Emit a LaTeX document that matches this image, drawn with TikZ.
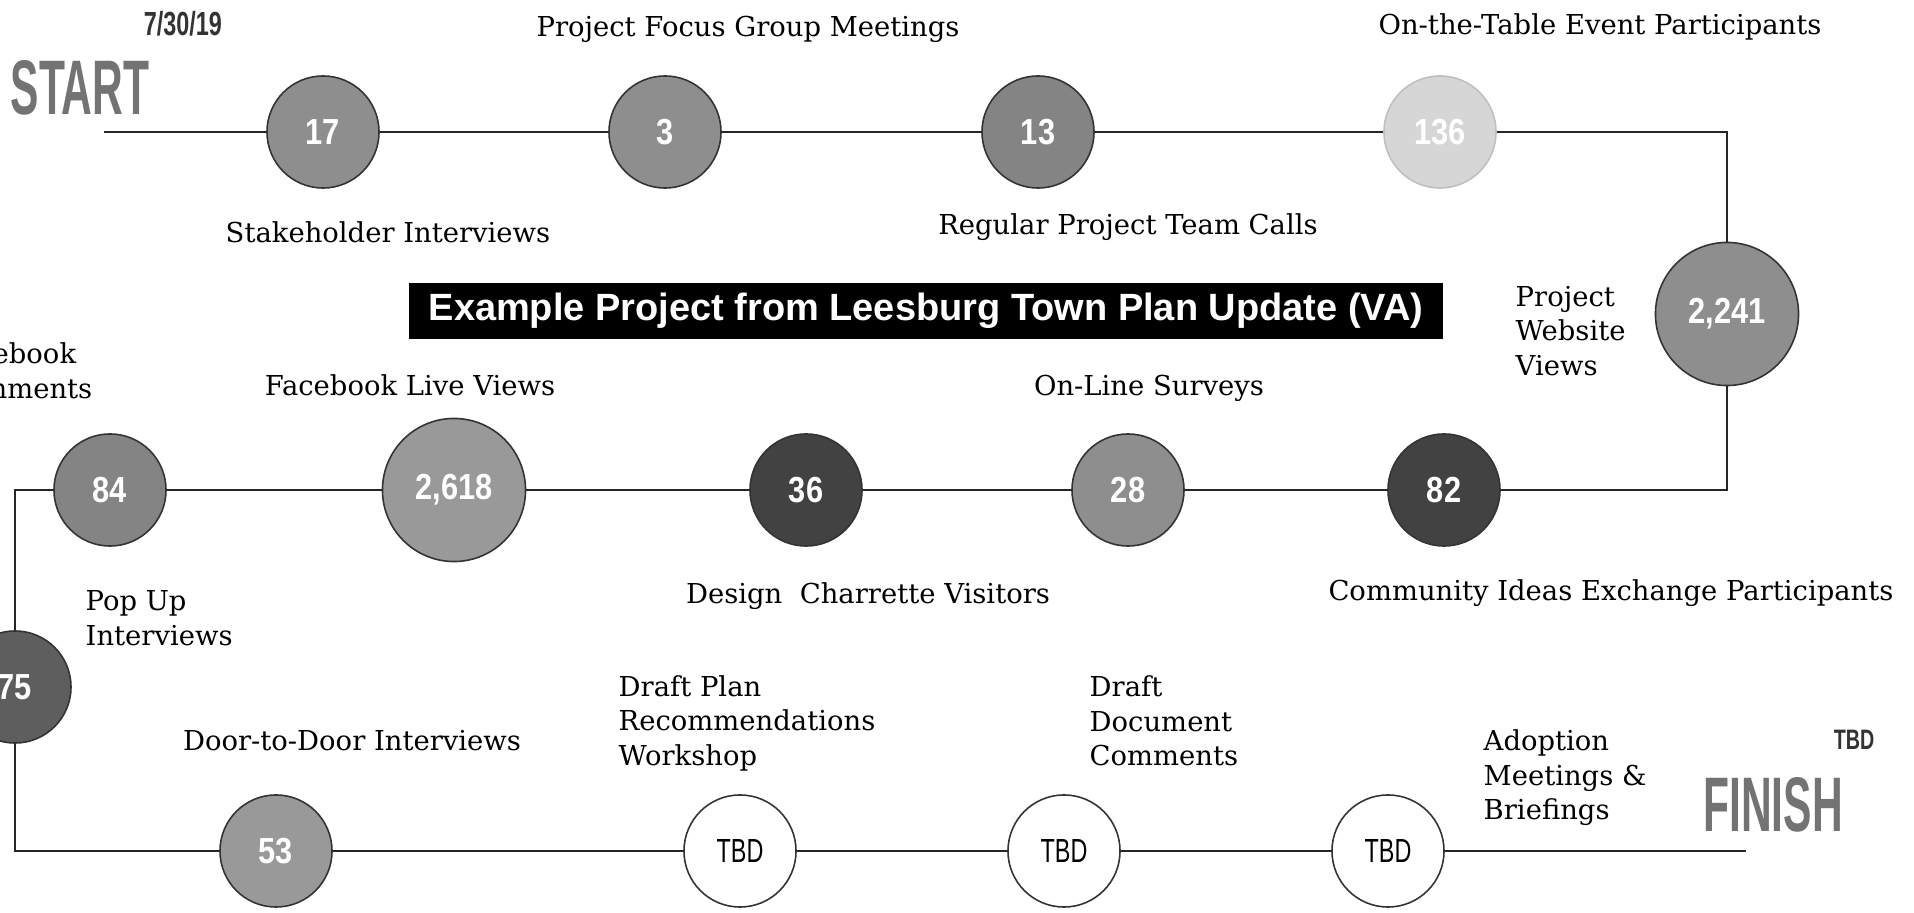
\documentclass[tikz,border=0pt]{standalone}
\usepackage{fontspec}
\setmainfont{DejaVu Serif}
\newfontfamily\numfont[FakeStretch=0.85]{Liberation Sans}
\newfontfamily\datefont[FakeStretch=0.7]{Liberation Sans}
\newfontfamily\tallfont[FakeStretch=0.55]{Liberation Sans}
\newfontfamily\titlefont{Liberation Sans}
\definecolor{gmid}{HTML}{8E8E8E}
\definecolor{gmidlt}{HTML}{999999}
\definecolor{gmiddk}{HTML}{848484}
\definecolor{gdark}{HTML}{424242}
\definecolor{gdeep}{HTML}{5E5E5E}
\definecolor{gpale}{HTML}{D6D6D6}

\begin{document}
\begin{tikzpicture}[x=0.01cm,y=-0.01cm,
  link/.style={draw=black!85,line width=0.6pt},
  dot/.style={circle,draw=black!80,line width=0.45pt,minimum size=1.12cm,inner sep=0pt,
              text=white,font=\numfont\bfseries\fontsize{10.3}{12}\selectfont},
  bigdot/.style={dot,minimum size=1.43cm},
  open/.style={dot,fill=white,text=black,font=\datefont\fontsize{9.5}{11}\selectfont},
  lbl/.style={font=\fontsize{7.8}{9.8}\selectfont,inner sep=0pt},
  lbll/.style={lbl,align=left,anchor=west},
  tall/.style={font=\tallfont\bfseries\fontsize{22}{22}\selectfont,text=black!55,inner sep=0pt},
  stamp/.style={font=\datefont\bfseries\fontsize{9.5}{10}\selectfont,text=black!80,inner sep=0pt}]
\def\ra{132}\def\rb{490}\def\rc{851}
\fill[white] (0,0) rectangle (1914,913);
\useasboundingbox (0,0) rectangle (1914,913);

% row 1
\node[dot,fill=gmid] (c17) at (323,\ra) {17};
\node[dot,fill=gmid] (c3) at (665,\ra) {3};
\node[dot,fill=gmiddk] (c13) at (1038,\ra) {13};
\node[dot,fill=gpale,draw=black!25] (c136) at (1440,\ra) {136};
\node[bigdot,fill=gmid] (c2241) at (1727,314) {2,241};
% row 2
\node[dot,fill=gmiddk] (c84) at (110,\rb) {84};
\node[bigdot,fill=gmidlt] (c2618) at (454,\rb) {2,618};
\node[dot,fill=gdark] (c36) at (806,\rb) {36};
\node[dot,fill=gmid] (c28) at (1128,\rb) {28};
\node[dot,fill=gdark] (c82) at (1444,\rb) {82};
\node[dot,fill=gdeep] (c75) at (15,687) {75};
% row 3
\node[dot,fill=gmidlt] (c53) at (276,\rc) {53};
\node[open] (tbdA) at (740,\rc) {TBD};
\node[open] (tbdB) at (1064,\rc) {TBD};
\node[open] (tbdC) at (1388,\rc) {TBD};

\coordinate (s0) at (104,\ra);
\coordinate (kA) at (1727,\ra);
\coordinate (kB) at (1727,\rb);
\coordinate (kC) at (15,\rb);
\coordinate (kD) at (15,\rc);
\coordinate (fin) at (1746,\rc);
\draw[link] (s0) -- (c17) -- (c3) -- (c13) -- (c136) -- (kA) -- (c2241) -- (kB)
  -- (c82) -- (c28) -- (c36) -- (c2618) -- (c84) -- (kC) -- (c75) -- (kD)
  -- (c53) -- (tbdA) -- (tbdB) -- (tbdC) -- (fin);

% labels
\node[stamp] (tDate) at (183,24) {7/30/19};
\node[tall] (tStart) at (80,88) {START};
\node[stamp,font=\datefont\bfseries\fontsize{8}{9}\selectfont] (tTbd) at (1854,740) {TBD};
\node[tall] (tFinish) at (1773,805) {FINISH};
\node[lbl] (lFocus) at (748,29) {Project Focus Group Meetings};
\node[lbl] (lStake) at (388,232) {Stakeholder Interviews};
\node[lbl] (lCalls) at (1128,227) {Regular Project Team Calls};
\node[lbl] (lTable) at (1600,27) {On-the-Table Event Participants};
\node[lbll] (lWeb) at (1515,331) {Project\\Website\\Views};
\node[lbl,align=left,anchor=east] (lFbc) at (93,371) {Facebook\\Comments};
\node[lbl] (lLive) at (410,385) {Facebook Live Views};
\node[lbl] (lSurv) at (1149,388) {On-Line Surveys};
\node[lbll] (lPop) at (85,618) {Pop Up\\Interviews};
\node[lbl] (lChar) at (868,596) {Design\ \ Charrette Visitors};
\node[lbl] (lIdea) at (1611,593) {Community Ideas Exchange Participants};
\node[lbl] (lDoor) at (352,741) {Door-to-Door Interviews};
\node[lbll] (lRec) at (618,723) {Draft Plan\\Recommendations\\Workshop};
\node[lbll] (lDoc) at (1089,721) {Draft\\Document\\Comments};
\node[lbll] (lAdopt) at (1483,778) {Adoption\\Meetings \&\\Briefings};
\node[fill=black,text=white,font=\titlefont\bfseries\fontsize{10.8}{12}\selectfont,
      minimum width=10.34cm,minimum height=0.56cm,inner sep=0pt] (title) at (926,311)
  {Example Project from Leesburg Town Plan Update (VA)};
\end{tikzpicture}
\end{document}
